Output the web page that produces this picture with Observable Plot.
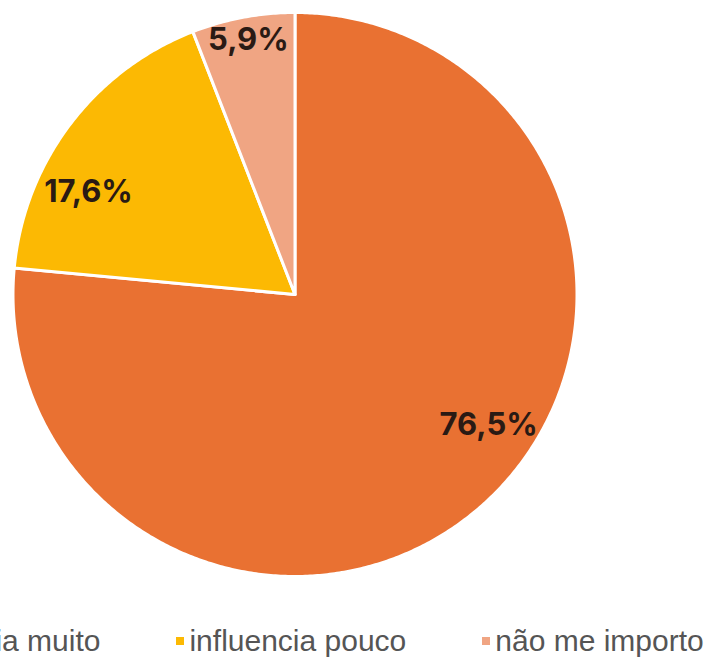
<!DOCTYPE html>
<html>
<head>
<meta charset="utf-8">
<script src="https://cdn.jsdelivr.net/npm/d3@7"></script>
<script src="https://cdn.jsdelivr.net/npm/@observablehq/plot@0.6"></script>
<style>
  html, body { margin: 0; padding: 0; background: #fff; overflow: hidden; }
  #wrap { position: relative; width: 717px; height: 662px; overflow: hidden; }
  #legend { position: absolute; top: 626px; left: -121px; display: flex; gap: 76px; white-space: nowrap;
            font-family: "Liberation Sans", Arial, sans-serif; font-size: 30px; line-height: 30px; color: #555; }
  .item { display: flex; align-items: center; gap: 5px; }
  .sw { width: 8px; height: 8px; display: inline-block; }
</style>
</head>
<body>
<div id="wrap"></div>
<script>
const categories = ["influencia muito", "influencia pouco", "não me importo"];
const values = [76.5, 17.6, 5.9];
const labels = ["76,5%", "17,6%", "5,9%"];
const colors = ["#E97132", "#FCB903", "#F0A583"];

// label nudges in px (placement only)
const nudges = [[38, -40], [-22, 37], [-4, -27]];

const arcs = d3.pie().sort(null).value(d => d)(values);

// slice outlines in unit coordinates (y up), from the pie angles
const pts = [];
arcs.forEach((a, i) => {
  const cat = categories[i];
  pts.push({cat, x: 0, y: 0});
  const n = Math.max(2, Math.ceil((a.endAngle - a.startAngle) / (Math.PI / 360)));
  for (let k = 0; k <= n; k++) {
    const t = a.startAngle + (a.endAngle - a.startAngle) * k / n;
    pts.push({cat, x: Math.sin(t), y: Math.cos(t)});
  }
  pts.push({cat, x: 0, y: 0});
});

const labelData = arcs.map((a, i) => {
  const m = (a.startAngle + a.endAngle) / 2;
  return {cat: categories[i], label: labels[i], x: 0.82 * Math.sin(m), y: 0.82 * Math.cos(m)};
});

const W = 717, H = 610, R = 282, cx = 294.5, cy = 294;
const marks = [
  Plot.line(pts, {x: "x", y: "y", z: "cat", fill: "cat", stroke: "white", strokeWidth: 3, strokeLinejoin: "round", curve: "linear"})
];
labelData.forEach((d, i) => {
  marks.push(Plot.text([d], {x: "x", y: "y", text: "label", dx: nudges[i][0], dy: nudges[i][1],
    fill: "#2a1a14", fontSize: 31, fontWeight: 700, fontFamily: "Inter, 'Open Sans', sans-serif"}));
});

const chart = Plot.plot({
  width: W, height: H,
  marginLeft: cx - R, marginRight: W - (cx + R), marginTop: cy - R, marginBottom: H - (cy + R),
  x: {domain: [-1, 1], axis: null},
  y: {domain: [-1, 1], axis: null},
  color: {domain: categories, range: colors},
  style: {background: "white", overflow: "visible"},
  marks
});
const wrap = document.getElementById("wrap");
wrap.appendChild(chart);

const legend = document.createElement("div");
legend.id = "legend";
categories.forEach((c, i) => {
  const it = document.createElement("div");
  it.className = "item";
  const sw = document.createElement("span");
  sw.className = "sw";
  sw.style.background = colors[i];
  const tx = document.createElement("span");
  tx.textContent = c;
  it.appendChild(sw); it.appendChild(tx);
  legend.appendChild(it);
});
wrap.appendChild(legend);
</script>
</body>
</html>
